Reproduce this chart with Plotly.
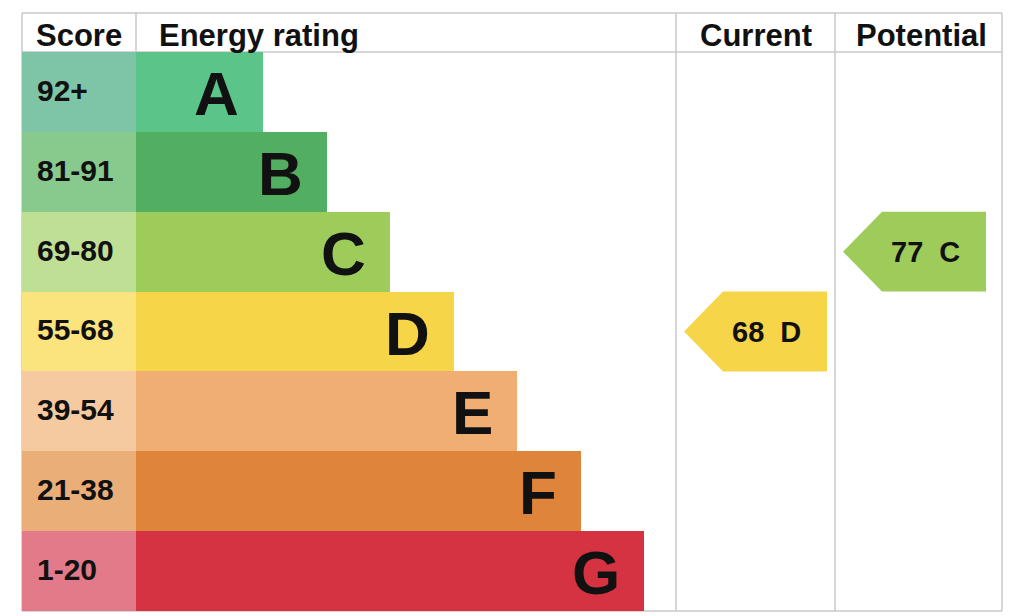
import plotly.graph_objects as go

# EPC bands (top to bottom)
bands = ["A", "B", "C", "D", "E", "F", "G"]
score_ranges = ["92+", "81-91", "69-80", "55-68", "39-54", "21-38", "1-20"]
band_min_score = [92, 81, 69, 55, 39, 21, 1]
band_length = [2, 3, 4, 5, 6, 7, 8]

bar_colors = ["#5bc489", "#52ae61", "#9dcc5b", "#f7d548", "#f0ae72", "#df853b", "#d63342"]
score_colors = ["#7ec5a7", "#88c98e", "#bfdf94", "#fbe37d", "#f5caa1", "#eaae78", "#e27a8a"]

current_score = 68
potential_score = 77

# layout geometry (x units: bar steps, y units: rows)
off = 8                # page offset of the plot div
px_x = 63.5            # pixels per x unit
px_y = 79.86           # pixels per row
x_lo = -(136 - off) / px_x
x_hi = x_lo + 1024 / px_x
y_top = -0.5 - (52 - off) / px_y
y_bot = y_top + 616 / px_y
frame_l = -114 / px_x
frame_r = (1002 - 136) / px_x
cur_l = (676 - 136) / px_x
pot_l = (835 - 136) / px_x
head_top = -0.5 - 39 / px_y
head_mid = -0.5 - 17 / px_y
line_col = "#c8c8c8"
font_fam = "Liberation Sans, Arial, Helvetica, sans-serif"


def band_of(score):
    for i, m in enumerate(band_min_score):
        if score >= m:
            return i
    return len(bands) - 1


rows = list(range(len(bands)))

fig = go.Figure()

# score column
fig.add_trace(go.Bar(
    y=rows, x=[-frame_l] * len(rows), base=frame_l, orientation="h",
    width=1, marker=dict(color=score_colors, line_width=0),
    hoverinfo="skip", showlegend=False))

# rating bars
fig.add_trace(go.Bar(
    y=rows, x=band_length, base=0, orientation="h",
    width=1, marker=dict(color=bar_colors, line_width=0),
    hoverinfo="skip", showlegend=False))


def add_arrow(score, col_l, col_r):
    i = band_of(score)
    tip = col_l + 8 / px_x
    body = tip + 39 / px_x
    right = col_r - 8 / px_x
    xs = [tip, body, right, right, body, tip]
    ys = [i, i - 0.5, i - 0.5, i + 0.5, i + 0.5, i]
    fig.add_trace(go.Scatter(
        x=xs, y=ys, fill="toself", fillcolor=bar_colors[i],
        line=dict(width=0, color=bar_colors[i]), mode="lines",
        hoverinfo="skip", showlegend=False))
    fig.add_annotation(
        x=tip + 0.575 * (right - tip), y=i, text=f"<b>{score}  {bands[i]}</b>",
        showarrow=False, xanchor="center", yanchor="middle",
        font=dict(family=font_fam, size=29, color="#111111"))


add_arrow(current_score, cur_l, pot_l)
add_arrow(potential_score, pot_l, frame_r - 8 / px_x)

# text labels
for i in rows:
    fig.add_annotation(
        x=frame_l + 13 / px_x, y=i - 0.02, text=f"<b>{score_ranges[i]}</b>",
        showarrow=False, xanchor="left", yanchor="middle",
        font=dict(family=font_fam, size=30, color="#111111"))
    fig.add_annotation(
        x=band_length[i] - 22 / px_x, y=i + 0.02, text=f"<b>{bands[i]}</b>",
        showarrow=False, xanchor="right", yanchor="middle",
        font=dict(family=font_fam, size=62, color="#111111"))

headers = [("Score", frame_l / 2, "center"),
           ("Energy rating", 21 / px_x, "left"),
           ("Current", (cur_l + pot_l) / 2, "center"),
           ("Potential", (pot_l + frame_r) / 2 + 3 / px_x, "center")]
for txt, hx, anc in headers:
    fig.add_annotation(
        x=hx, y=head_mid, text=f"<b>{txt}</b>", showarrow=False,
        xanchor=anc, yanchor="middle",
        font=dict(family=font_fam, size=31, color="#111111"))

# table lines
lw = 1.5
lines = [
    (frame_l, head_top, frame_r, head_top),
    (frame_l, -0.5, frame_r, -0.5),
    (frame_l, 6.5, frame_r, 6.5),
    (frame_l, head_top, frame_l, 6.5),
    (frame_r, head_top, frame_r, 6.5),
    (0, head_top, 0, -0.5),
    (cur_l, head_top, cur_l, 6.5),
    (pot_l, head_top, pot_l, 6.5),
]
for x0, y0, x1, y1 in lines:
    fig.add_shape(type="line", x0=x0, y0=y0, x1=x1, y1=y1,
                  line=dict(color=line_col, width=lw), layer="below")

fig.update_xaxes(range=[x_lo, x_hi], visible=False, fixedrange=True)
fig.update_yaxes(range=[y_bot, y_top], visible=False, fixedrange=True)
fig.update_layout(
    width=1024, height=616,
    margin=dict(l=0, r=0, t=0, b=0),
    barmode="overlay", bargap=0,
    paper_bgcolor="white", plot_bgcolor="white",
)

fig.write_html("out.html")
